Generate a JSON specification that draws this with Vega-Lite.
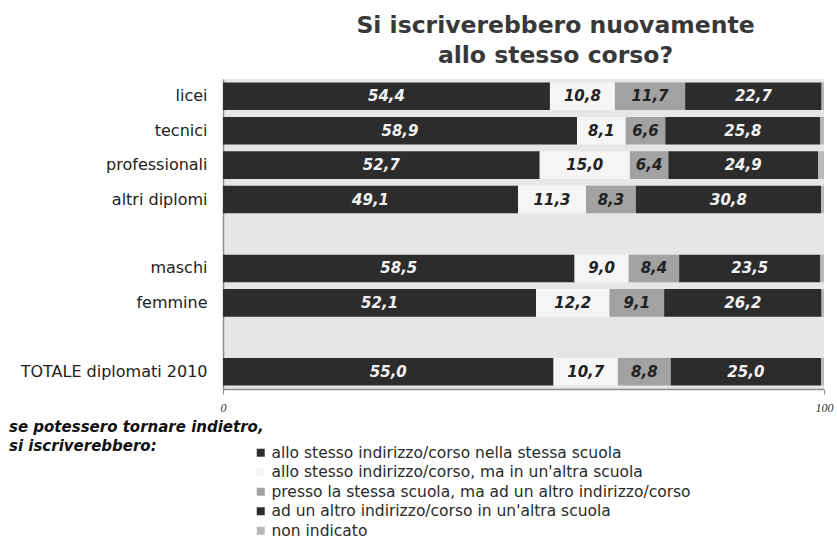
{
  "$schema": "https://vega.github.io/schema/vega-lite/v6.json",
  "width": 601,
  "height": 310,
  "autosize": {"type": "none"},
  "padding": {"left": 223, "top": 79, "right": 13, "bottom": 151},
  "background": "white",
  "title": {
    "text": ["Si iscriverebbero nuovamente", "allo stesso corso?"],
    "font": "DejaVu Sans",
    "fontSize": 23.5,
    "fontWeight": "bold",
    "color": "#383838",
    "lineHeight": 30,
    "offset": 12,
    "anchor": "middle",
    "frame": "group",
    "dx": 32
  },
  "data": {
    "values": [
      {"gruppo": "licei", "k": 1, "serie": "allo stesso indirizzo/corso nella stessa scuola", "v": 54.4},
      {"gruppo": "licei", "k": 2, "serie": "allo stesso indirizzo/corso, ma in un'altra scuola", "v": 10.8},
      {"gruppo": "licei", "k": 3, "serie": "presso la stessa scuola, ma ad un altro indirizzo/corso", "v": 11.7},
      {"gruppo": "licei", "k": 4, "serie": "ad un altro indirizzo/corso in un'altra scuola", "v": 22.7},
      {"gruppo": "licei", "k": 5, "serie": "non indicato", "v": 0.4},
      {"gruppo": "tecnici", "k": 1, "serie": "allo stesso indirizzo/corso nella stessa scuola", "v": 58.9},
      {"gruppo": "tecnici", "k": 2, "serie": "allo stesso indirizzo/corso, ma in un'altra scuola", "v": 8.1},
      {"gruppo": "tecnici", "k": 3, "serie": "presso la stessa scuola, ma ad un altro indirizzo/corso", "v": 6.6},
      {"gruppo": "tecnici", "k": 4, "serie": "ad un altro indirizzo/corso in un'altra scuola", "v": 25.8},
      {"gruppo": "tecnici", "k": 5, "serie": "non indicato", "v": 0.6},
      {"gruppo": "professionali", "k": 1, "serie": "allo stesso indirizzo/corso nella stessa scuola", "v": 52.7},
      {"gruppo": "professionali", "k": 2, "serie": "allo stesso indirizzo/corso, ma in un'altra scuola", "v": 15.0},
      {"gruppo": "professionali", "k": 3, "serie": "presso la stessa scuola, ma ad un altro indirizzo/corso", "v": 6.4},
      {"gruppo": "professionali", "k": 4, "serie": "ad un altro indirizzo/corso in un'altra scuola", "v": 24.9},
      {"gruppo": "professionali", "k": 5, "serie": "non indicato", "v": 1.0},
      {"gruppo": "altri diplomi", "k": 1, "serie": "allo stesso indirizzo/corso nella stessa scuola", "v": 49.1},
      {"gruppo": "altri diplomi", "k": 2, "serie": "allo stesso indirizzo/corso, ma in un'altra scuola", "v": 11.3},
      {"gruppo": "altri diplomi", "k": 3, "serie": "presso la stessa scuola, ma ad un altro indirizzo/corso", "v": 8.3},
      {"gruppo": "altri diplomi", "k": 4, "serie": "ad un altro indirizzo/corso in un'altra scuola", "v": 30.8},
      {"gruppo": "altri diplomi", "k": 5, "serie": "non indicato", "v": 0.5},
      {"gruppo": "maschi", "k": 1, "serie": "allo stesso indirizzo/corso nella stessa scuola", "v": 58.5},
      {"gruppo": "maschi", "k": 2, "serie": "allo stesso indirizzo/corso, ma in un'altra scuola", "v": 9.0},
      {"gruppo": "maschi", "k": 3, "serie": "presso la stessa scuola, ma ad un altro indirizzo/corso", "v": 8.4},
      {"gruppo": "maschi", "k": 4, "serie": "ad un altro indirizzo/corso in un'altra scuola", "v": 23.5},
      {"gruppo": "maschi", "k": 5, "serie": "non indicato", "v": 0.6},
      {"gruppo": "femmine", "k": 1, "serie": "allo stesso indirizzo/corso nella stessa scuola", "v": 52.1},
      {"gruppo": "femmine", "k": 2, "serie": "allo stesso indirizzo/corso, ma in un'altra scuola", "v": 12.2},
      {"gruppo": "femmine", "k": 3, "serie": "presso la stessa scuola, ma ad un altro indirizzo/corso", "v": 9.1},
      {"gruppo": "femmine", "k": 4, "serie": "ad un altro indirizzo/corso in un'altra scuola", "v": 26.2},
      {"gruppo": "femmine", "k": 5, "serie": "non indicato", "v": 0.4},
      {"gruppo": "TOTALE diplomati 2010", "k": 1, "serie": "allo stesso indirizzo/corso nella stessa scuola", "v": 55.0},
      {"gruppo": "TOTALE diplomati 2010", "k": 2, "serie": "allo stesso indirizzo/corso, ma in un'altra scuola", "v": 10.7},
      {"gruppo": "TOTALE diplomati 2010", "k": 3, "serie": "presso la stessa scuola, ma ad un altro indirizzo/corso", "v": 8.8},
      {"gruppo": "TOTALE diplomati 2010", "k": 4, "serie": "ad un altro indirizzo/corso in un'altra scuola", "v": 25.0},
      {"gruppo": "TOTALE diplomati 2010", "k": 5, "serie": "non indicato", "v": 0.5}
    ]
  },
  "transform": [
    {"stack": "v", "groupby": ["gruppo"], "sort": [{"field": "k", "order": "ascending"}], "as": ["v0", "v1"]},
    {"calculate": "(datum.v0 + datum.v1) / 2", "as": "vm"}
  ],
  "encoding": {
    "y": {
      "field": "gruppo",
      "type": "nominal",
      "title": null,
      "scale": {
        "domain": ["licei", "tecnici", "professionali", "altri diplomi", " ", "maschi", "femmine", "  ", "TOTALE diplomati 2010"],
        "paddingInner": 0.2,
        "paddingOuter": 0.1
      },
      "axis": {
        "labelFont": "DejaVu Sans",
        "labelFontSize": 16,
        "labelColor": "#222222",
        "labelPadding": 16,
        "labelLimit": 0,
        "ticks": false,
        "domain": true,
        "domainColor": "#8c8c8c",
        "domainWidth": 1.5,
        "grid": false
      }
    }
  },
  "layer": [
    {
      "mark": {"type": "bar"},
      "encoding": {
        "x": {
          "field": "v0",
          "type": "quantitative",
          "title": null,
          "scale": {"domain": [0, 100], "nice": false},
          "axis": {
            "values": [0, 100],
            "labelFont": "Liberation Serif",
            "labelFontStyle": "italic",
            "labelFontSize": 12,
            "labelColor": "#333333",
            "labelPadding": 8,
            "labelFlush": false,
            "tickSize": 5,
            "tickColor": "#8c8c8c",
            "domainColor": "#8c8c8c",
            "domainWidth": 1.5,
            "grid": false
          }
        },
        "x2": {"field": "v1"},
        "color": {
          "field": "serie",
          "type": "nominal",
          "scale": {
            "domain": [
              "allo stesso indirizzo/corso nella stessa scuola",
              "allo stesso indirizzo/corso, ma in un'altra scuola",
              "presso la stessa scuola, ma ad un altro indirizzo/corso",
              "ad un altro indirizzo/corso in un'altra scuola",
              "non indicato"
            ],
            "range": ["#2c2c2c", "#f5f5f5", "#a2a2a2", "#2c2c2c", "#b8b8b8"]
          },
          "legend": {
            "orient": "none",
            "legendX": -214,
            "legendY": 341,
            "title": ["se potessero tornare indietro,", "si iscriverebbero:"],
            "titleOrient": "top",
            "titleAnchor": "start",
            "titleBaseline": "top",
            "titleFont": "DejaVu Sans",
            "titleFontSize": 15,
            "titleFontWeight": "bold",
            "titleFontStyle": "italic",
            "titleColor": "#111111",
            "titlePadding": -9,
            "titleLineHeight": 19,
            "titleLimit": 0,
            "labelFont": "DejaVu Sans",
            "labelFontSize": 15.5,
            "labelColor": "#2a2a2a",
            "labelLimit": 0,
            "labelOffset": 3,
            "symbolOffset": 244,
            "symbolType": "square",
            "symbolSize": 64,
            "symbolStrokeWidth": 0,
            "rowPadding": 2.5
          }
        }
      }
    },
    {
      "transform": [{"filter": "datum.v > 3"}],
      "mark": {"type": "text", "font": "DejaVu Sans", "fontSize": 15, "fontWeight": "bold", "fontStyle": "italic"},
      "encoding": {
        "x": {"field": "vm", "type": "quantitative"},
        "text": {"field": "v", "type": "quantitative", "format": ".1f"},
        "color": {
          "condition": {"test": "datum.k == 1 || datum.k == 4", "value": "#f2f2f2"},
          "value": "#222222"
        }
      }
    }
  ],
  "config": {
    "locale": {"number": {"decimal": ",", "thousands": ".", "grouping": [3], "currency": ["", " €"]}},
    "view": {"fill": "#e6e6e6", "stroke": null}
  }
}
